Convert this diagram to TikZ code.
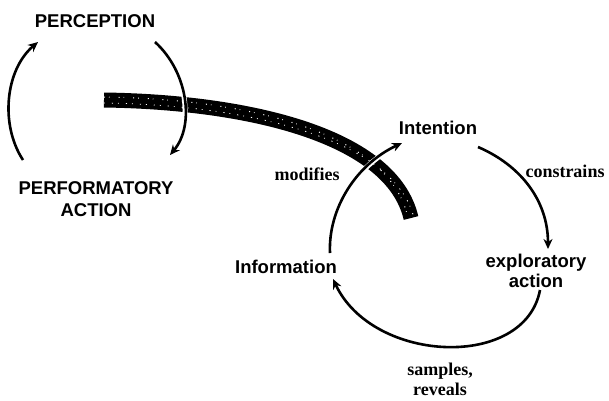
\documentclass[tikz,border=0pt]{standalone}
\usepackage{fontspec}
\setmainfont{Liberation Serif}
\setsansfont{Liberation Sans}
\usetikzlibrary{arrows.meta,calc}

\tikzset{every picture/.style={line width=0.75pt}}
\tikzset{
  capslabel/.style={font=\sffamily\bfseries\fontsize{18.5}{22}\selectfont, inner sep=0pt, align=center},
  term/.style={font=\sffamily\bfseries\fontsize{18.5}{20.5}\selectfont, inner sep=0pt, align=center},
  verb/.style={font=\rmfamily\bfseries\fontsize{18}{20}\selectfont, inner sep=0pt, align=center},
  flow/.style={line width=2.6pt, -{Stealth[length=10pt,width=9pt]},
    preaction={draw=white, line width=5pt, -}},
  band/.style={line width=15pt, line cap=butt}
}

\begin{document}
\begin{tikzpicture}[x=1pt,y=1pt,yscale=-1,xscale=1]
\useasboundingbox (0,0) rectangle (609,400);

% Text Nodes, left loop
\node[capslabel] (perception) at (95,21) {PERCEPTION};
\node[capslabel] (perform) at (96,199) {PERFORMATORY\\ACTION};

% Text Nodes, right loop
\node[term] (intention) at (438,128) {Intention};
\node[term] (explor) at (536,271) {exploratory\\action};
\node[term] (info) at (286,267) {Information};
\node[verb] (modifies) at (307,174) {modifies};
\node[verb] (constrains) at (565,171) {constrains};
\node[verb] (samples) at (440,379) {samples,\\reveals};

% the broad band
\coordinate (bandL) at (104,100);
\coordinate (bandR) at (411,218);
\draw[band] (bandL) .. controls (250,102) and (392,136) .. (bandR);
\draw[white, line width=1pt, dash pattern=on 1pt off 4pt on 0.6pt off 9pt] ([yshift=-3pt]bandL) .. controls (250,99) and (390,133) .. ([xshift=-3pt]bandR);
\draw[white, line width=0.8pt, dash pattern=on 0.8pt off 7pt on 1.2pt off 5pt] ([yshift=3pt]bandL) .. controls (250,105) and (394,139) .. ([xshift=3pt]bandR);

% left loop arcs
\draw[flow] ($(perform)+(-73,-39)$) .. controls +(-23,-35) and +(-33,28) .. ($(perception)+(-57,21)$);
\draw[flow] ($(perception)+(60,21)$) .. controls +(33,30) and +(25,-30) .. ($(perform)+(74,-44)$);

% right loop arcs
\draw[flow] ($(intention)+(40,19)$) .. controls +(42,18) and +(0,-49) .. ($(explor)+(12,-22)$);
\draw[flow] ($(explor)+(4,19)$) .. controls +(-15,80) and +(40,85) .. ($(info)+(47,12)$);
\draw[flow] ($(info)+(44,-14)$) .. controls +(-2,-43) and +(-47,22) .. ($(intention)+(-36,15)$);

\end{tikzpicture}
\end{document}
